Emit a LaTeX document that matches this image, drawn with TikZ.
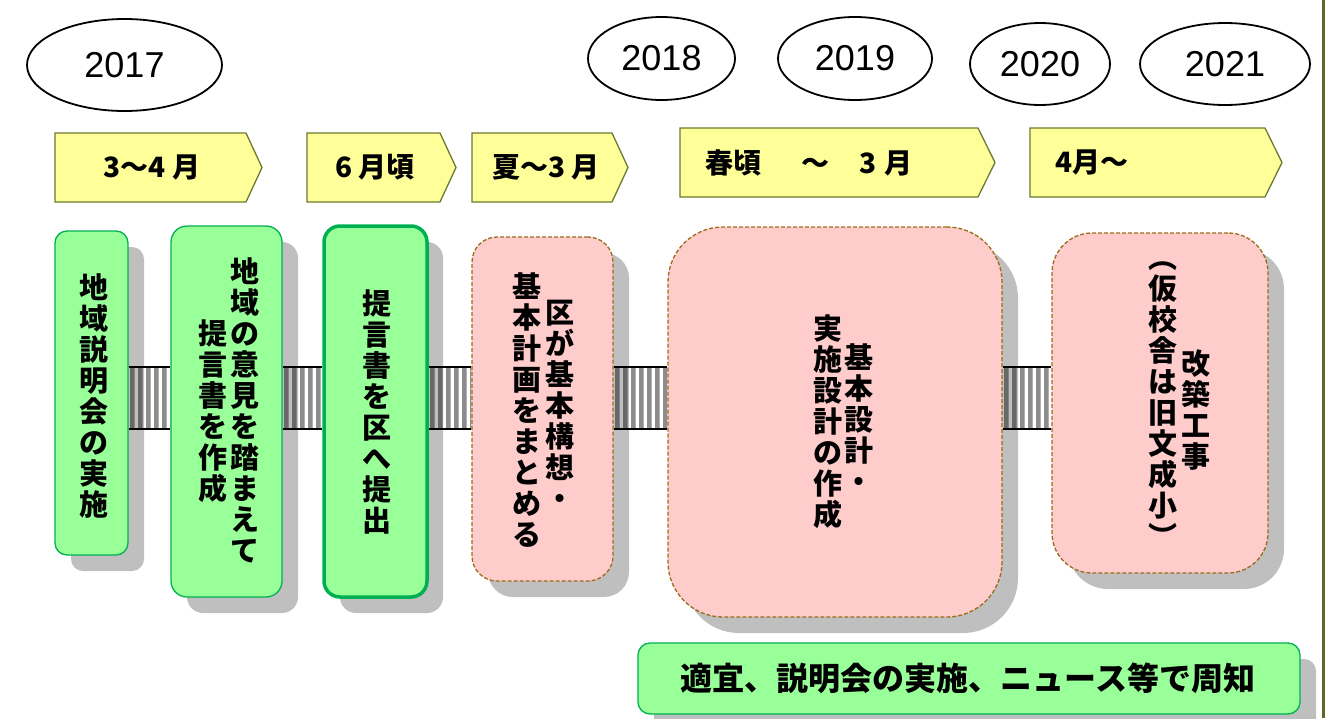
\documentclass[tikz,border=0pt]{standalone}
\usepackage{fontspec}
\setmainfont{Liberation Sans}
\newfontfamily\jp{Noto Sans CJK JP}
\usetikzlibrary{shapes.geometric,shadows,calc}
\pgfdeclarelayer{bg}
\pgfsetlayers{bg,main}
\definecolor{gfill}{HTML}{99FF99}
\definecolor{gline}{HTML}{00B050}
\definecolor{pfill}{HTML}{FFCCCC}
\definecolor{pline}{HTML}{9C6B1A}
\definecolor{yfill}{HTML}{FFFF99}
\definecolor{yline}{HTML}{6B7A2E}
\definecolor{edgeolive}{HTML}{5A6A2A}
\definecolor{stripegray}{HTML}{8C8C8C}
\definecolor{stripelight}{HTML}{B0B0B0}
\tikzset{
  boxbase/.style={rectangle, inner sep=0pt, line width=1.3pt},
  myshadow/.style={drop shadow={shadow xshift=16pt, shadow yshift=-16pt, fill=black, opacity=0.25}},
  gbox/.style={boxbase, fill=gfill, draw=gline, myshadow},
  pbox/.style={boxbase, fill=pfill, draw=pline, dash pattern=on 4pt off 2pt, myshadow},
  vtext/.style={font={\jp\bfseries\fontsize{29}{31}\selectfont}, align=center, inner sep=0pt},
  btext/.style={font={\jp\bfseries\fontsize{28}{30}\selectfont}, inner sep=0pt},
  banner/.style={fill=yfill, draw=yline, line width=1.3pt, line join=miter},
  yearell/.style={ellipse, draw=black, line width=1.8pt, fill=white, inner sep=0pt, font={\fontsize{36}{40}\selectfont}},
  stripe/.style={fill=stripegray},
  stripeb/.style={fill=stripelight}
}
\newcommand\linkbar[2]{%
  \begin{pgfonlayer}{bg}
  \begin{scope}
    \clip (#1.east|-ct) rectangle (#2.west|-cb);
    \fill[white] (#1.east|-ct) rectangle (#2.west|-cb);
    \foreach \k in {0,...,10} {\fill[stripe] ($(#1.east|-ct)+(\k*8+1,0)$) rectangle ++(4,62);
      \fill[stripeb] ($(#1.east|-ct)+(\k*8+5,0)$) rectangle ++(1,62);}
  \end{scope}
  \draw[line width=1.6pt] (#1.east|-ct) -- (#2.west|-ct);
  \draw[line width=1.6pt] (#1.east|-cb) -- (#2.west|-cb);
  \end{pgfonlayer}}
\begin{document}
\begin{tikzpicture}[x=1pt,y=-1pt]
\useasboundingbox (0,0) rectangle (1336,718);
% years
\node[yearell, minimum width=195pt, minimum height=92pt] (y17) at (124.5,65) {2017};
\node[yearell, minimum width=147pt, minimum height=83pt] (y18) at (661.5,58.5) {2018};
\node[yearell, minimum width=154pt, minimum height=83pt] (y19) at (855,58.5) {2019};
\node[yearell, minimum width=140pt, minimum height=82pt] (y20) at (1040,64) {2020};
\node[yearell, minimum width=170pt, minimum height=82pt] (y21) at (1225,64) {2021};
% banners
\draw[banner] (55,133) -- (246,133) -- (262,167.5) -- (246,202) -- (55,202) -- cycle;
\node[btext] (t1) at (152,167.5) {3〜4 月};
\draw[banner] (307,133) -- (440,133) -- (456,167.5) -- (440,202) -- (307,202) -- cycle;
\node[btext] (t2) at (375,167.5) {6 月頃};
\draw[banner] (472,133) -- (612,133) -- (628,167.5) -- (612,202) -- (472,202) -- cycle;
\node[btext] (t3) at (546,167.5) {夏〜3 月};
\draw[banner] (680,128) -- (978,128) -- (995,162.5) -- (978,197) -- (680,197) -- cycle;
\node[btext] (t4) at (809,162.5) {春頃\hspace{40pt}〜\hspace{30pt}3\hspace{8pt}月};
\draw[banner] (1030,128) -- (1265,128) -- (1282,162.5) -- (1265,197) -- (1030,197) -- cycle;
\node[btext] (t5) at (1092,162.5) {4月〜};
% connector rails
\coordinate (ct) at (0,367);
\coordinate (cb) at (0,429);
% boxes
\node[gbox, minimum width=73pt, minimum height=324pt, rounded corners=12pt] (b1) at (91.5,393) {};
\node[gbox, minimum width=111pt, minimum height=371pt, rounded corners=16pt] (b2) at (226.5,411.5) {};
\node[gbox, minimum width=103pt, minimum height=371pt, rounded corners=16pt, line width=3.5pt] (b3) at (375.5,411.5) {};
\node[pbox, minimum width=141pt, minimum height=344pt, rounded corners=25pt] (b4) at (542.5,409) {};
\node[pbox, minimum width=334pt, minimum height=390pt, rounded corners=55pt] (b5) at (835,422) {};
\node[pbox, minimum width=216pt, minimum height=340pt, rounded corners=40pt] (b6) at (1160,403) {};
\node[gbox, minimum width=662pt, minimum height=71pt, rounded corners=12pt] (b7) at (969,678.5) {};
\linkbar{b1}{b2}
\linkbar{b2}{b3}
\linkbar{b3}{b4}
\linkbar{b4}{b5}
\linkbar{b5}{b6}
% texts
\node[vtext] (x1) at (94,396) {地\\域\\説\\明\\会\\の\\実\\施};
\node[vtext] (x2r) at (245,410) {地\\域\\の\\意\\見\\を\\踏\\ま\\え\\て};
\node[vtext] (x2l) at (213,411) {提\\言\\書\\を\\作\\成};
\node[vtext] (x3) at (377,412) {提\\言\\書\\を\\区\\へ\\提\\出};
\node[vtext] (x4r) at (560,405) {区\\が\\基\\本\\構\\想\\・};
\node[vtext] (x4l) at (527,410) {基\\本\\計\\画\\を\\ま\\と\\め\\る};
\node[vtext] (x5r) at (859,418) {基\\本\\設\\計\\・};
\node[vtext] (x5l) at (828,422) {実\\施\\設\\計\\の\\作\\成};
\node[vtext] (x6r) at (1196,410) {改\\築\\工\\事};
\node[vtext] (x6l) at (1163,405) {︵\\仮\\校\\舎\\は\\旧\\文\\成\\小\\︶};
\node[font={\jp\bfseries\fontsize{32}{36}\selectfont}, inner sep=0pt] (x7) at (968,678) {適宜、説明会の実施、ニュース等で周知};
% right edge line
\coordinate (vl1) at (1323,0);
\coordinate (vl2) at (1323,718);
\draw[line width=3pt, edgeolive] (vl1) -- (vl2);
\end{tikzpicture}
\end{document}
